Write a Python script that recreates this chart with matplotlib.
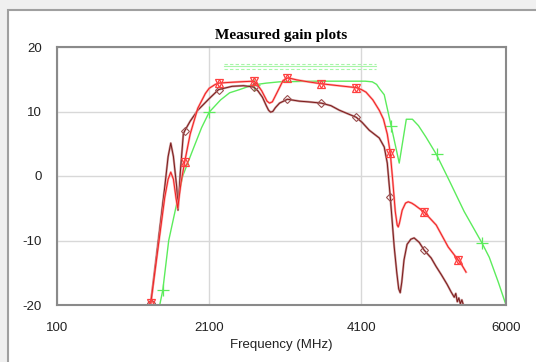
import numpy as np
import matplotlib.pyplot as plt
from matplotlib.patches import Rectangle

plt.rcParams['axes.unicode_minus'] = False

# red trace (gain, dB) vs frequency (MHz)
red_f = [1332, 1516, 1560, 1595, 1630, 1665, 1686, 1730, 1778, 1850, 1950, 2050,
         2100, 2180, 2224, 2350, 2500, 2683, 2720, 2790, 2860, 2893, 2930, 2990,
         3070, 3128, 3180, 3250, 3400, 3574, 3800, 4033, 4100, 4160, 4250, 4334,
         4390, 4440, 4479, 4510, 4545, 4570, 4584, 4600, 4636, 4680, 4715, 4760,
         4800, 4925, 5083, 5240, 5370, 5420, 5475]
red_g = [-19.7, -3.3, -0.5, 0.6, -0.5, -3.5, -5.0, -1.0, 2.2, 6.5, 10.5, 12.8,
         13.6, 14.2, 14.4, 14.5, 14.6, 14.7, 14.4, 13.2, 11.6, 11.3, 11.5, 12.9,
         14.8, 15.2, 15.1, 14.9, 14.6, 14.3, 14.0, 13.7, 13.4, 13.0, 11.8, 10.2,
         8.8, 6.5, 3.6, -0.5, -5.5, -7.6, -7.9, -7.3, -5.3, -4.2, -4.0, -4.2,
         -4.5, -5.6, -7.6, -11.0, -13.0, -13.8, -14.9]
red_mf = [1332, 1778, 2224, 2683, 3128, 3574, 4033, 4479, 4925, 5370]
red_mg = [-19.7, 2.2, 14.4, 14.7, 15.2, 14.3, 13.7, 3.6, -5.6, -13.0]

# brown trace
brown_f = [1332, 1516, 1560, 1595, 1630, 1673, 1690, 1720, 1760, 1778, 1850, 1950,
           2100, 2224, 2400, 2550, 2683, 2740, 2800, 2850, 2880, 2906, 2935, 2970,
           3024, 3128, 3286, 3400, 3574, 3700, 3810, 4033, 4110, 4203, 4334, 4400,
           4440, 4479, 4531, 4565, 4590, 4610, 4630, 4660, 4700, 4750, 4793, 4860,
           4925, 5016, 5080, 5150, 5226, 5280, 5320, 5340, 5360, 5380, 5400, 5420,
           5440]
brown_g = [-19.7, -1.7, 3.0, 5.1, 3.0, -1.7, -5.3, 0.5, 6.5, 7.0, 8.5, 10.2,
           12.0, 13.4, 13.9, 14.0, 13.8, 13.2, 12.2, 10.9, 10.2, 9.9, 10.0, 10.6,
           11.3, 11.9, 11.6, 11.5, 11.3, 10.9, 10.2, 9.1, 8.3, 7.1, 5.9, 4.5,
           2.0, -3.2, -11.0, -15.0, -17.5, -18.1, -16.5, -13.0, -10.6, -9.8, -9.6, -10.3,
           -11.5, -12.7, -14.0, -15.3, -16.8, -18.0, -18.8, -18.2, -19.5, -18.9, -19.8, -19.2,
           -20.0]
brown_mf = [1332, 1778, 2224, 2683, 3128, 3574, 4033, 4479, 4925]
brown_mg = [-19.7, 7.0, 13.4, 13.8, 11.9, 11.3, 9.1, -3.2, -11.5]

# green trace
green_f = [1450, 1490, 1568, 1752, 1883, 2000, 2100, 2250, 2368, 2500, 2670, 2850,
           3024, 3500, 4000, 4150, 4243, 4300, 4340, 4400, 4492, 4597, 4690, 4770,
           4850, 4950, 5083, 5250, 5450, 5685, 5780, 5900, 6000]
green_g = [-20, -17.7, -10, 0, 4.0, 7.5, 9.9, 11.8, 12.9, 13.4, 14.1, 14.4,
           14.6, 14.7, 14.7, 14.7, 14.6, 14.2, 13.5, 12.6, 7.7, 2.0, 8.8, 8.8,
           7.8, 6.0, 3.4, -0.6, -5.5, -10.4, -12.6, -16.5, -20]
green_mf = [1490, 2100, 2690, 4492, 5096, 5685]
green_mg = [-17.7, 9.9, 14.1, 7.7, 3.4, -10.4]

# spec lines at the top
spec_f = [2290, 4296]
spec_levels = [17.3, 17.0, 16.6]

fig = plt.figure(figsize=(5.36, 3.62), dpi=100, facecolor='#f0f0f0')
panel = Rectangle((8 / 536, -0.1), 1.2, 1 - 10 / 362 + 0.1,
                  transform=fig.transFigure, facecolor='white',
                  edgecolor='#a0a0a0', linewidth=1.5, zorder=-10)
fig.add_artist(panel)

ax = fig.add_axes([57 / 536, 1 - 305 / 362, 449 / 536, 258 / 362])
ax.set_facecolor('white')

for i, lev in enumerate(spec_levels):
    ax.plot(spec_f, [lev, lev], color='#a8f5a8', lw=0.8,
            ls='-' if i == 1 else (0, (3, 2)))

ax.plot(green_f, green_g, color='#5cec5c', lw=1.0)
ax.plot(green_mf, green_mg, ls='none', marker='+', ms=8, mew=0.9, color='#5cec5c')

ax.plot(brown_f, brown_g, color='#c08080', lw=1.6, alpha=0.8)
ax.plot(brown_f, brown_g, color='#7a1a1a', lw=0.7)
ax.plot(brown_mf, brown_mg, ls='none', marker='D', ms=4.5, mfc='none',
        mec='#9a5050', mew=0.8)

ax.plot(red_f, red_g, color='#ff8a8a', lw=1.6, alpha=0.8)
ax.plot(red_f, red_g, color='#ee2020', lw=0.7)
for m in ['v', '^']:
    ax.plot(red_mf, red_mg, ls='none', marker=m, ms=6, mfc='none',
            mec='#ff4040', mew=0.9)

ax.set_xlim(100, 6000)
ax.set_ylim(-20, 20)
ax.set_xticks([100, 2100, 4100, 6000])
ax.set_yticks([-20, -10, 0, 10, 20])
ax.grid(True, color='#d8d8d8', lw=1.0)
ax.set_axisbelow(True)
for s in ax.spines.values():
    s.set_color('#8a8a8a')
    s.set_linewidth(1.5)
ax.tick_params(length=0, labelsize=9.5, colors='#222222')
ax.tick_params(axis='x', pad=12)
ax.tick_params(axis='y', pad=11)
for lab in ax.get_xticklabels() + ax.get_yticklabels():
    lab.set_family('Liberation Sans')

ax.set_xlabel('Frequency (MHz)', family='Liberation Sans', fontsize=9.5,
              labelpad=4, color='#222222')
ax.set_title('Measured gain plots', family='Liberation Serif', fontweight='bold',
             fontsize=11, pad=6)

fig.savefig('out.png', dpi=100, facecolor=fig.get_facecolor())
